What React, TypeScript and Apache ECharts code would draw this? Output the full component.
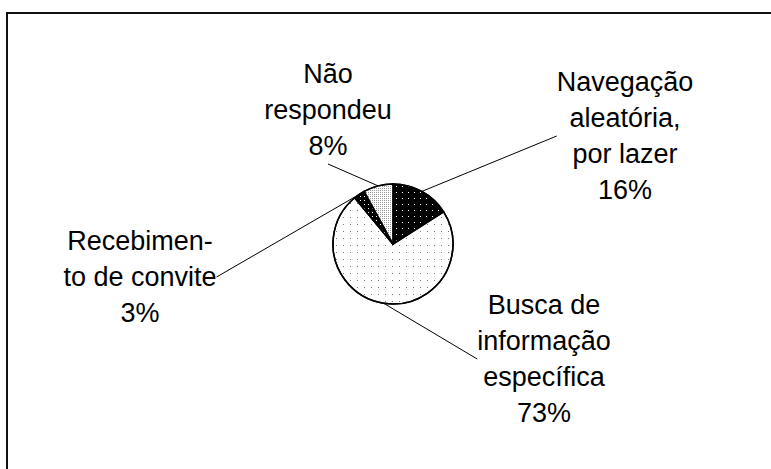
import React, { useEffect, useRef } from "react";
import * as echarts from "echarts";

const categories = [
  "Navegação\naleatória,\npor lazer",
  "Busca de\ninformação\nespecífica",
  "Recebimen-\nto de convite",
  "Não\nrespondeu",
];
const values = [16, 73, 3, 8];

const baseColors = ["#000000", "#ffffff", "#000000", "#ffffff"];
const dotColors = ["#ffffff", "#777777", "#ffffff", "#999999"];
const dotGaps = [5, 6, 3, 1];
const labelCenters: [number, number][] = [
  [625, 136],
  [544, 359],
  [140, 277],
  [328, 110],
];

export default function App() {
  const ref = useRef<HTMLDivElement>(null);
  useEffect(() => {
    if (!ref.current) return;
    const chart = echarts.init(ref.current, undefined, { renderer: "svg" });
    chart.setOption({
      animation: false,
      backgroundColor: "#ffffff",
      graphic: [
        {
          type: "rect",
          shape: { x: 7, y: 13, width: 800, height: 500 },
          style: { fill: "none", stroke: "#111", lineWidth: 2 },
          silent: true,
        },
      ],
      series: [
        {
          type: "pie",
          center: [393, 244],
          radius: [0, 60],
          startAngle: 90,
          clockwise: true,
          avoidLabelOverlap: false,
          label: {
            show: true,
            position: "outside",
            fontFamily: "Liberation Sans, Arial, sans-serif",
            fontSize: 27,
            lineHeight: 36,
            color: "#000",
            align: "center",
            formatter: (p: any) => `${p.name}\n${p.value}%`,
          },
          labelLine: {
            show: true,
            length: 0,
            length2: 0,
            lineStyle: { color: "#000", width: 1 },
          },
          labelLayout: (p: any) => {
            const c = labelCenters[p.dataIndex];
            return { x: c[0], y: c[1], align: "center", verticalAlign: "middle" };
          },
          data: categories.map((name, i) => ({
            name,
            value: values[i],
            itemStyle: {
              color: baseColors[i],
              borderColor: "#000",
              borderWidth: 1.5,
              decal: {
                symbol: "rect",
                symbolSize: 1,
                color: dotColors[i],
                dashArrayX: [1, dotGaps[i]],
                dashArrayY: [1, dotGaps[i]],
                rotation: 0,
              },
            },
          })),
        },
      ],
    });
    return () => chart.dispose();
  }, []);
  return (
    <div
      ref={ref}
      style={{ position: "fixed", left: 0, top: 0, width: 771, height: 469 }}
    />
  );
}
